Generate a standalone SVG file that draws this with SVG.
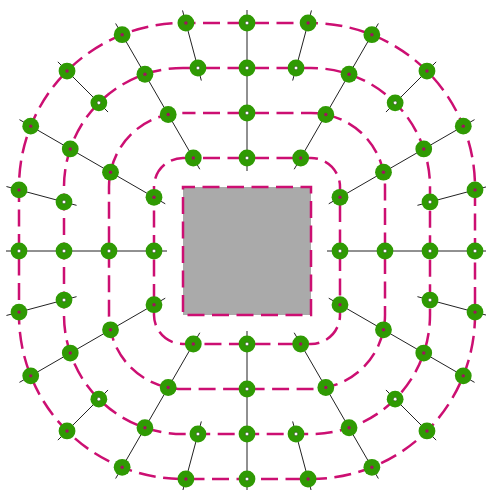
<svg xmlns="http://www.w3.org/2000/svg" xmlns:xlink="http://www.w3.org/1999/xlink" width="486" height="490" viewBox="0 0 486 490">
<style>
.ring{fill:none;stroke:#cc0f72;stroke-width:2.5;stroke-dasharray:17 7.5;stroke-dashoffset:4.5}
.core{fill:#aaaaaa;stroke:#cc0f72;stroke-width:2.5;stroke-dasharray:17 7.5;stroke-dashoffset:5}
.conn line{stroke:#222;stroke-width:1}
</style>
<defs>
<g id="nm"><circle r="8.4" fill="#2f9a03"/><circle r="1.7" fill="#a0125e"/></g>
<g id="nw"><circle r="8.4" fill="#2f9a03"/><circle r="1.8" fill="#fff" stroke="#2a3a20" stroke-width="0.5"/></g>
</defs>
<rect width="486" height="490" fill="#fff"/>
<g id="rings">
<rect class="ring" x="19" y="23" width="456" height="456" rx="164"/>
<rect class="ring" x="64" y="68" width="366" height="366" rx="119"/>
<rect class="ring" x="109" y="113" width="276" height="276" rx="74"/>
<rect class="ring" x="154" y="158" width="186" height="186" rx="29"/>
</g>
<g id="center"><rect class="core" x="183" y="187" width="128" height="128"/></g>
<g id="connectors" class="conn">
<line x1="488" y1="251" x2="327" y2="251"/>
<line x1="247" y1="10" x2="247" y2="171"/>
<line x1="6" y1="251" x2="167" y2="251"/>
<line x1="247" y1="492" x2="247" y2="331"/>
<line x1="474.54" y1="119.63" x2="328.74" y2="203.80"/>
<line x1="378.37" y1="23.46" x2="294.20" y2="169.26"/>
<line x1="115.63" y1="23.46" x2="199.80" y2="169.26"/>
<line x1="19.46" y1="119.63" x2="165.26" y2="203.80"/>
<line x1="19.46" y1="382.37" x2="165.26" y2="298.20"/>
<line x1="115.63" y1="478.54" x2="199.80" y2="332.74"/>
<line x1="378.37" y1="478.54" x2="294.20" y2="332.74"/>
<line x1="474.54" y1="382.37" x2="328.74" y2="298.20"/>
<line x1="487.55" y1="186.54" x2="417.45" y2="205.33"/>
<line x1="311.46" y1="10.45" x2="292.67" y2="80.55"/>
<line x1="182.54" y1="10.45" x2="201.33" y2="80.55"/>
<line x1="6.45" y1="186.54" x2="76.55" y2="205.33"/>
<line x1="6.45" y1="315.46" x2="76.55" y2="296.67"/>
<line x1="182.54" y1="491.55" x2="201.33" y2="421.45"/>
<line x1="311.46" y1="491.55" x2="292.67" y2="421.45"/>
<line x1="487.55" y1="315.46" x2="417.45" y2="296.67"/>
<line x1="436.16" y1="61.84" x2="385.95" y2="112.05"/>
<line x1="57.84" y1="61.84" x2="108.05" y2="112.05"/>
<line x1="57.84" y1="440.16" x2="108.05" y2="389.95"/>
<line x1="436.16" y1="440.16" x2="385.95" y2="389.95"/>
</g>
<g id="nodes">
<g id="r4-0"><use xlink:href="#nw" x="475" y="251"/></g>
<g id="r4-15"><use xlink:href="#nm" x="475" y="189.91"/></g>
<g id="r4-30"><use xlink:href="#nm" x="463.28" y="126.13"/></g>
<g id="r4-45"><use xlink:href="#nm" x="426.97" y="71.03"/></g>
<g id="r4-60"><use xlink:href="#nm" x="371.87" y="34.72"/></g>
<g id="r4-75"><use xlink:href="#nm" x="308.09" y="23"/></g>
<g id="r4-90"><use xlink:href="#nw" x="247" y="23"/></g>
<g id="r4-105"><use xlink:href="#nm" x="185.91" y="23"/></g>
<g id="r4-120"><use xlink:href="#nm" x="122.13" y="34.72"/></g>
<g id="r4-135"><use xlink:href="#nm" x="67.03" y="71.03"/></g>
<g id="r4-150"><use xlink:href="#nm" x="30.72" y="126.13"/></g>
<g id="r4-165"><use xlink:href="#nm" x="19" y="189.91"/></g>
<g id="r4-180"><use xlink:href="#nw" x="19" y="251"/></g>
<g id="r4-195"><use xlink:href="#nm" x="19" y="312.09"/></g>
<g id="r4-210"><use xlink:href="#nm" x="30.72" y="375.87"/></g>
<g id="r4-225"><use xlink:href="#nm" x="67.03" y="430.97"/></g>
<g id="r4-240"><use xlink:href="#nm" x="122.13" y="467.28"/></g>
<g id="r4-255"><use xlink:href="#nm" x="185.91" y="479"/></g>
<g id="r4-270"><use xlink:href="#nw" x="247" y="479"/></g>
<g id="r4-285"><use xlink:href="#nm" x="308.09" y="479"/></g>
<g id="r4-300"><use xlink:href="#nm" x="371.87" y="467.28"/></g>
<g id="r4-315"><use xlink:href="#nm" x="426.97" y="430.97"/></g>
<g id="r4-330"><use xlink:href="#nm" x="463.28" y="375.87"/></g>
<g id="r4-345"><use xlink:href="#nm" x="475" y="312.09"/></g>
<g id="r3-0"><use xlink:href="#nw" x="430" y="251"/></g>
<g id="r3-15"><use xlink:href="#nw" x="430" y="201.97"/></g>
<g id="r3-30"><use xlink:href="#nm" x="423.75" y="148.95"/></g>
<g id="r3-45"><use xlink:href="#nw" x="395.15" y="102.85"/></g>
<g id="r3-60"><use xlink:href="#nm" x="349.05" y="74.25"/></g>
<g id="r3-75"><use xlink:href="#nw" x="296.03" y="68"/></g>
<g id="r3-90"><use xlink:href="#nw" x="247" y="68"/></g>
<g id="r3-105"><use xlink:href="#nw" x="197.97" y="68"/></g>
<g id="r3-120"><use xlink:href="#nm" x="144.95" y="74.25"/></g>
<g id="r3-135"><use xlink:href="#nw" x="98.85" y="102.85"/></g>
<g id="r3-150"><use xlink:href="#nm" x="70.25" y="148.95"/></g>
<g id="r3-165"><use xlink:href="#nw" x="64" y="201.97"/></g>
<g id="r3-180"><use xlink:href="#nw" x="64" y="251"/></g>
<g id="r3-195"><use xlink:href="#nw" x="64" y="300.03"/></g>
<g id="r3-210"><use xlink:href="#nm" x="70.25" y="353.05"/></g>
<g id="r3-225"><use xlink:href="#nw" x="98.85" y="399.15"/></g>
<g id="r3-240"><use xlink:href="#nm" x="144.95" y="427.75"/></g>
<g id="r3-255"><use xlink:href="#nw" x="197.97" y="434"/></g>
<g id="r3-270"><use xlink:href="#nw" x="247" y="434"/></g>
<g id="r3-285"><use xlink:href="#nw" x="296.03" y="434"/></g>
<g id="r3-300"><use xlink:href="#nm" x="349.05" y="427.75"/></g>
<g id="r3-315"><use xlink:href="#nw" x="395.15" y="399.15"/></g>
<g id="r3-330"><use xlink:href="#nm" x="423.75" y="353.05"/></g>
<g id="r3-345"><use xlink:href="#nw" x="430" y="300.03"/></g>
<g id="r2-0"><use xlink:href="#nw" x="385" y="251"/></g>
<g id="r2-30"><use xlink:href="#nm" x="383.49" y="172.19"/></g>
<g id="r2-60"><use xlink:href="#nm" x="325.81" y="114.51"/></g>
<g id="r2-90"><use xlink:href="#nw" x="247" y="113"/></g>
<g id="r2-120"><use xlink:href="#nm" x="168.19" y="114.51"/></g>
<g id="r2-150"><use xlink:href="#nm" x="110.51" y="172.19"/></g>
<g id="r2-180"><use xlink:href="#nw" x="109" y="251"/></g>
<g id="r2-210"><use xlink:href="#nm" x="110.51" y="329.81"/></g>
<g id="r2-240"><use xlink:href="#nm" x="168.19" y="387.49"/></g>
<g id="r2-270"><use xlink:href="#nw" x="247" y="389"/></g>
<g id="r2-300"><use xlink:href="#nm" x="325.81" y="387.49"/></g>
<g id="r2-330"><use xlink:href="#nm" x="383.49" y="329.81"/></g>
<g id="r1-0"><use xlink:href="#nw" x="340" y="251"/></g>
<g id="r1-30"><use xlink:href="#nm" x="340" y="197.31"/></g>
<g id="r1-60"><use xlink:href="#nm" x="300.69" y="158"/></g>
<g id="r1-90"><use xlink:href="#nw" x="247" y="158"/></g>
<g id="r1-120"><use xlink:href="#nm" x="193.31" y="158"/></g>
<g id="r1-150"><use xlink:href="#nm" x="154" y="197.31"/></g>
<g id="r1-180"><use xlink:href="#nw" x="154" y="251"/></g>
<g id="r1-210"><use xlink:href="#nm" x="154" y="304.69"/></g>
<g id="r1-240"><use xlink:href="#nm" x="193.31" y="344"/></g>
<g id="r1-270"><use xlink:href="#nw" x="247" y="344"/></g>
<g id="r1-300"><use xlink:href="#nm" x="300.69" y="344"/></g>
<g id="r1-330"><use xlink:href="#nm" x="340" y="304.69"/></g>
</g>
</svg>
